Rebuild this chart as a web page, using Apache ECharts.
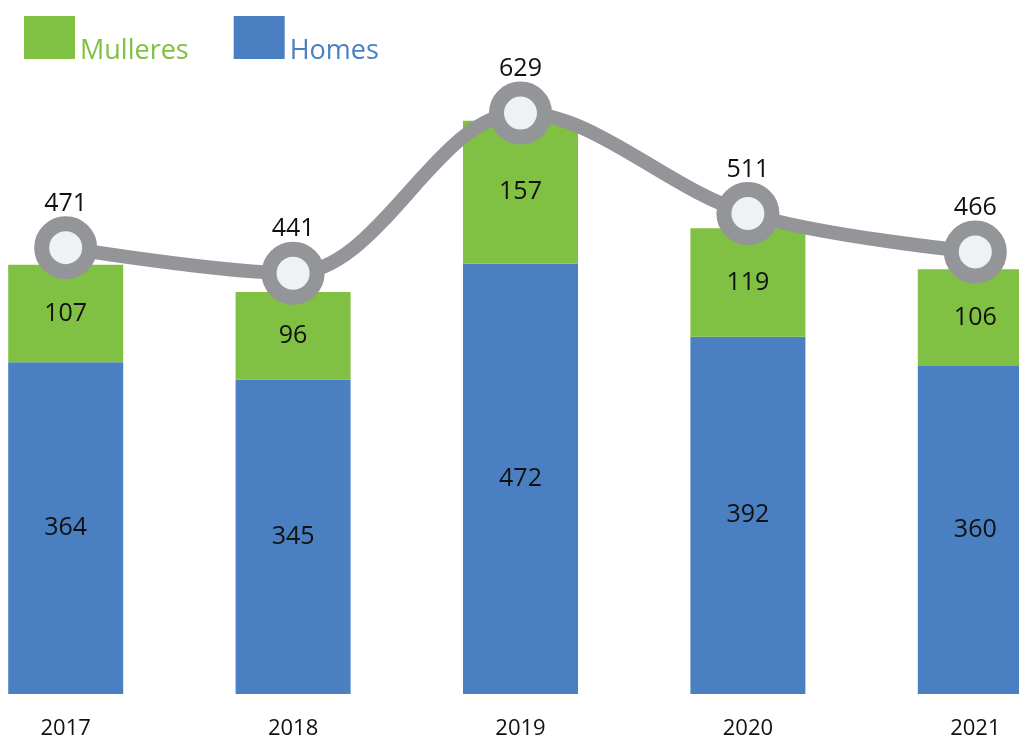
<!DOCTYPE html>
<html>
<head>
<meta charset="utf-8">
<script src="https://cdn.jsdelivr.net/npm/echarts@6/dist/echarts.min.js"></script>
<style>
  html, body { margin: 0; padding: 0; background: #fff; overflow: hidden; }
  #wrap { width: 1019px; height: 740px; overflow: hidden; position: relative; }
  /* the chart is wider than the page: its right edge is cropped like the original */
  #chart { width: 1137px; height: 740px; position: absolute; left: -48px; top: 0; }
</style>
</head>
<body>
<div id="wrap"><div id="chart"></div></div>
<script>
// data
const years = ['2017', '2018', '2019', '2020', '2021'];
const homes = [364, 345, 472, 392, 360];
const mulleres = [107, 96, 157, 119, 106];
const totals = [471, 441, 629, 511, 466];

const GREEN = '#80c042';
const BLUE = '#4a80c2';
const GREY = '#939598';
const FONT = '"Open Sans", sans-serif';

const chart = echarts.init(document.getElementById('chart'));

chart.setOption({
  backgroundColor: '#ffffff',
  animation: false,
  textStyle: { fontFamily: FONT },
  legend: {
    left: 72,
    top: 16,
    padding: 0,
    itemWidth: 51,
    itemHeight: 43,
    itemGap: 45,
    icon: 'rect',
    formatter: '{t|{name}}',
    data: [
      { name: 'Mulleres', textStyle: { color: GREEN } },
      { name: 'Homes', textStyle: { color: BLUE } },
    ],
    textStyle: {
      fontSize: 27,
      fontFamily: FONT,
      rich: { t: { fontSize: 27, fontFamily: FONT, padding: [28, 0, 0, 0] } },
    },
  },
  grid: {
    left: 0,
    right: 0,
    top: 56,
    bottom: 46,
    containLabel: false,
  },
  xAxis: {
    type: 'category',
    data: years,
    axisLine: { show: false },
    axisTick: { show: false },
    axisLabel: { fontSize: 22, color: '#111', margin: 24, fontFamily: FONT },
  },
  yAxis: [
    { type: 'value', min: 0, max: 700, show: false, splitLine: { show: false } },
    { type: 'value', min: -53, max: 696, show: false, splitLine: { show: false } },
  ],
  series: [
    {
      name: 'Homes',
      type: 'bar',
      stack: 'total',
      barWidth: 115,
      itemStyle: { color: BLUE },
      label: { show: true, position: 'inside', fontSize: 25, color: '#111', fontFamily: FONT },
      data: homes,
    },
    {
      name: 'Mulleres',
      type: 'bar',
      stack: 'total',
      barWidth: 115,
      itemStyle: { color: GREEN },
      label: { show: true, position: 'inside', fontSize: 25, color: '#111', fontFamily: FONT },
      data: mulleres,
    },
    {
      name: 'Total',
      type: 'line',
      yAxisIndex: 1,
      smooth: 0.35,
      symbol: 'circle',
      symbolSize: 48,
      lineStyle: { color: GREY, width: 14 },
      itemStyle: { color: '#f0f1f3', borderColor: GREY, borderWidth: 15 },
      label: { show: true, position: 'top', distance: 0, fontSize: 25, color: '#111', fontFamily: FONT },
      z: 5,
      data: totals,
    },
  ],
});
</script>
</body>
</html>
